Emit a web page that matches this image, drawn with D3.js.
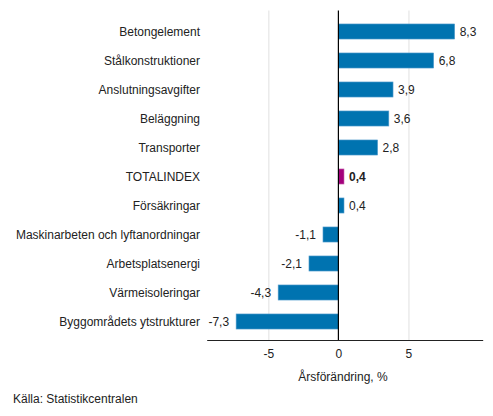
<!DOCTYPE html>
<html><head><meta charset="utf-8">
<script src="https://cdn.jsdelivr.net/npm/d3@7"></script>
<style>body{margin:0;background:#fff}text{font-family:"Liberation Sans",Arial,sans-serif}</style>
</head><body><svg id="c" width="493" height="416"></svg>
<script>
const categories = ["Betongelement","Stålkonstruktioner","Anslutningsavgifter","Beläggning","Transporter","TOTALINDEX","Försäkringar","Maskinarbeten och lyftanordningar","Arbetsplatsenergi","Värmeisoleringar","Byggområdets ytstrukturer"];
const values = [8.3,6.8,3.9,3.6,2.8,0.4,0.4,-1.1,-2.1,-4.3,-7.3];
const valueLabels = ["8,3","6,8","3,9","3,6","2,8","0,4","0,4","-1,1","-2,1","-4,3","-7,3"];
const xTicks = [-5,0,5];
const xTickLabels = ["-5","0","5"];
const highlight = "TOTALINDEX";
const axisTitle = "Årsförändring, %";
const source = "Källa: Statistikcentralen";

const svg = d3.select("#c");
const x = d3.scaleLinear().domain([-9.4,10.3]).range([206.7,482.7]);
const y = d3.scaleBand().domain(categories).range([17,336]).paddingInner(0.48).paddingOuter(0.24);
const plotTop = 10.5, plotBottom = 340;

// gridlines
svg.append("g").selectAll("line").data(xTicks.filter(t=>t!==0)).join("line")
  .attr("x1",d=>x(d)+0.5).attr("x2",d=>x(d)+0.5).attr("y1",plotTop).attr("y2",plotBottom)
  .attr("stroke","#e0e0e0").attr("stroke-width",1);

// bars
svg.append("g").selectAll("rect").data(categories).join("rect")
  .attr("x",(d,i)=>Math.min(x(0),x(values[i])))
  .attr("width",(d,i)=>Math.abs(x(values[i])-x(0)))
  .attr("y",d=>y(d)).attr("height",y.bandwidth())
  .attr("fill",d=>d===highlight?"#a3007c":"#0073b0")
  .attr("stroke",d=>d===highlight?"#c86ab0":"#5aa0cf").attr("stroke-width",0.6);

// zero line
svg.append("line").attr("x1",x(0)).attr("x2",x(0)).attr("y1",plotTop).attr("y2",plotBottom)
  .attr("stroke","#000").attr("stroke-width",1.2);

// bottom axis
const ax = svg.append("g").attr("transform",`translate(0,${plotBottom})`)
  .call(d3.axisBottom(x).tickValues(xTicks).tickFormat((d,i)=>xTickLabels[i]).tickSize(0).tickPadding(9));
ax.select(".domain").attr("stroke","#222");
ax.selectAll("text").attr("font-size",12).attr("fill","#222").attr("font-family","Liberation Sans, Arial, sans-serif");

// category labels
svg.append("g").selectAll("text").data(categories).join("text")
  .attr("x",200).attr("y",d=>y(d)+y.bandwidth()/2).attr("dy","0.35em")
  .attr("text-anchor","end").attr("font-size",12).attr("fill","#222").text(d=>d);

// value labels
svg.append("g").selectAll("text").data(categories).join("text")
  .attr("x",(d,i)=>values[i]>=0?x(values[i])+5:x(values[i])-7)
  .attr("y",d=>y(d)+y.bandwidth()/2).attr("dy","0.35em")
  .attr("text-anchor",(d,i)=>values[i]>=0?"start":"end")
  .attr("font-size",12).attr("fill","#222")
  .attr("font-weight",d=>d===highlight?"bold":"normal")
  .text((d,i)=>valueLabels[i]);

svg.append("text").attr("x",343).attr("y",381).attr("text-anchor","middle")
  .attr("font-size",12).attr("fill","#222").text(axisTitle);
svg.append("text").attr("x",13).attr("y",403)
  .attr("font-size",12).attr("fill","#222").text(source);
</script></body></html>
